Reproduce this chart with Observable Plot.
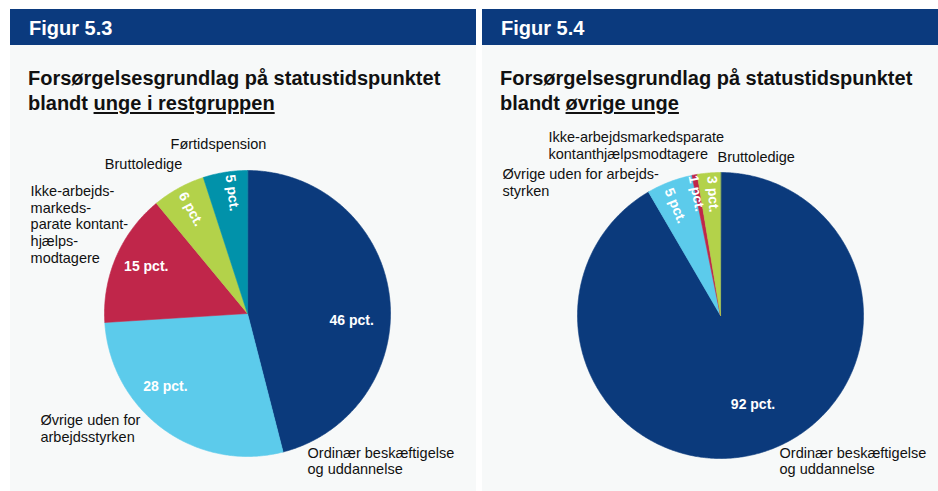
<!DOCTYPE html>
<html>
<head>
<meta charset="utf-8">
<script src="https://cdn.jsdelivr.net/npm/d3@7"></script>
<script src="https://cdn.jsdelivr.net/npm/@observablehq/plot@0.6"></script>
<style>
  html, body { margin: 0; padding: 0; background: #ffffff; }
  body { width: 938px; height: 491px; position: relative; overflow: hidden;
         font-family: "Liberation Sans", Arial, sans-serif; }
  .panel { position: absolute; top: 9px; height: 482px; background: #f7f9f9; }
  .hdr { position: absolute; left: 0; top: 0; right: 0; height: 36px; background: #0b3a7e;
         color: #fff; font-weight: bold; font-size: 20px; line-height: 38px; padding-left: 19px; }
  .ttl { position: absolute; left: 18px; top: 57px; font-weight: bold; font-size: 20px;
         line-height: 25px; color: #111; }
  .ttl u { text-decoration-thickness: 2px; text-underline-offset: 2px; }
  .chart { position: absolute; left: 0; top: 106px; }
</style>
</head>
<body>
<div class="panel" id="p1" style="left:10px;width:466px;">
  <div class="hdr">Figur 5.3</div>
  <div class="ttl">Forsørgelsesgrundlag på statustidspunktet<br>blandt <u>unge i restgruppen</u></div>
  <div class="chart" id="c1"></div>
</div>
<div class="panel" id="p2" style="left:482px;width:456px;">
  <div class="hdr">Figur 5.4</div>
  <div class="ttl">Forsørgelsesgrundlag på statustidspunktet<br>blandt <u>øvrige unge</u></div>
  <div class="chart" id="c2"></div>
</div>
<script>
// ---------- DATA ----------
const categories1 = ["Ordinær beskæftigelse og uddannelse", "Øvrige uden for arbejdsstyrken",
  "Ikke-arbejdsmarkedsparate kontanthjælpsmodtagere", "Bruttoledige", "Førtidspension"];
const values1 = [46, 28, 15, 6, 5];
const labels1 = ["Ordinær beskæftigelse\nog uddannelse", "Øvrige uden for\narbejdsstyrken",
  "Ikke-arbejds-\nmarkeds-\nparate kontant-\nhjælps-\nmodtagere", "Bruttoledige", "Førtidspension"];

const categories2 = ["Ordinær beskæftigelse og uddannelse", "Øvrige uden for arbejdsstyrken",
  "Ikke-arbejdsmarkedsparate kontanthjælpsmodtagere", "Bruttoledige"];
const values2 = [91.6, 5.2, 0.6, 2.6];
const labels2 = ["Ordinær beskæftigelse\nog uddannelse", "Øvrige uden for arbejds-\nstyrken",
  "Ikke-arbejdsmarkedsparate\nkontanthjælpsmodtagere", "Bruttoledige"];

// ---------- STYLE / LAYOUT ----------
const colorDomain = ["Ordinær beskæftigelse og uddannelse", "Øvrige uden for arbejdsstyrken",
  "Ikke-arbejdsmarkedsparate kontanthjælpsmodtagere", "Bruttoledige", "Førtidspension"];
const colorRange = ["#0b3a7c", "#5ccbeb", "#c0264a", "#b3d24a", "#0192aa"];

// outer label anchors in radius units, and text anchors
const outer1 = {pos: [[0.420, -1.028], [-1.448, -0.804], [-1.517, 0.626], [-0.727, 1.049], [-0.203, 1.189]],
                anchor: ["start", "start", "start", "middle", "middle"]};
const outer2 = {pos: [[0.413, -1.014], [-1.524, 0.934], [-1.203, 1.192], [-0.021, 1.112]],
                anchor: ["start", "start", "start", "start"]};
// inner value label: radius fraction and angular shift (fraction of full turn)
const inner1 = {r: [0.73, 0.77, 0.78, 0.83, 0.85], shift: [0.03, 0.034, 0.004, 0.001, 0.005]};
const inner2 = {r: [0.66, 0.83, 0.87, 0.85], shift: [-0.014, -0.004, -0.002, 0.003]};

function buildPie(el, cats, vals, outerText, outer, inner, width, height, cx, cy, R) {
  const total = d3.sum(vals);
  const poly = [];
  const valueLabels = [];
  let acc = 0;
  cats.forEach((c, i) => {
    const f0 = acc / total, f1 = (acc + vals[i]) / total;
    acc += vals[i];
    const a0 = f0 * 2 * Math.PI, a1 = f1 * 2 * Math.PI;
    const n = Math.max(2, Math.ceil((a1 - a0) / (Math.PI / 360)));
    poly.push({cat: c, x: 0, y: 0});
    for (let k = 0; k <= n; k++) {
      const a = a0 + (a1 - a0) * k / n;
      poly.push({cat: c, x: Math.sin(a), y: Math.cos(a)});
    }
    const fm = (f0 + f1) / 2 + inner.shift[i];
    const am = fm * 2 * Math.PI;
    let deg = fm * 360; if (deg > 180) deg -= 360;
    const small = vals[i] < 10;
    valueLabels.push({
      text: Math.round(vals[i]) + " pct.",
      x: inner.r[i] * Math.sin(am), y: inner.r[i] * Math.cos(am),
      rot: small ? 90 + deg : 0
    });
  });
  const outerLabels = cats.map((c, i) => ({text: outerText[i], x: outer.pos[i][0], y: outer.pos[i][1], anchor: outer.anchor[i]}));

  const chart = Plot.plot({
    width, height, margin: 0,
    style: {background: "transparent", fontFamily: "'Liberation Sans', Arial, sans-serif", overflow: "visible"},
    x: {domain: [-1, 1], range: [cx - R, cx + R], axis: null},
    y: {domain: [-1, 1], range: [cy + R, cy - R], axis: null},
    color: {domain: colorDomain, range: colorRange},
    marks: [
      Plot.line(poly, {x: "x", y: "y", z: "cat", fill: "cat", stroke: "cat", strokeWidth: 0.6, curve: "linear-closed"}),
      Plot.text(valueLabels, {x: "x", y: "y", text: "text", rotate: "rot", fill: "white",
        fontWeight: "bold", fontSize: 14}),
      Plot.text(outerLabels.filter(d => d.anchor === "start"), {x: "x", y: "y", text: "text", textAnchor: "start",
        fill: "#111", fontSize: 14.5, lineHeight: 1.15}),
      Plot.text(outerLabels.filter(d => d.anchor === "middle"), {x: "x", y: "y", text: "text", textAnchor: "middle",
        fill: "#111", fontSize: 14.5, lineHeight: 1.15})
    ]
  });
  document.getElementById(el).appendChild(chart);
}

buildPie("c1", categories1, values1, labels1, outer1, inner1, 466, 376, 237, 198, 143);
buildPie("c2", categories2, values2, labels2, outer2, inner2, 456, 376, 238, 200, 143);
</script>
</body>
</html>
